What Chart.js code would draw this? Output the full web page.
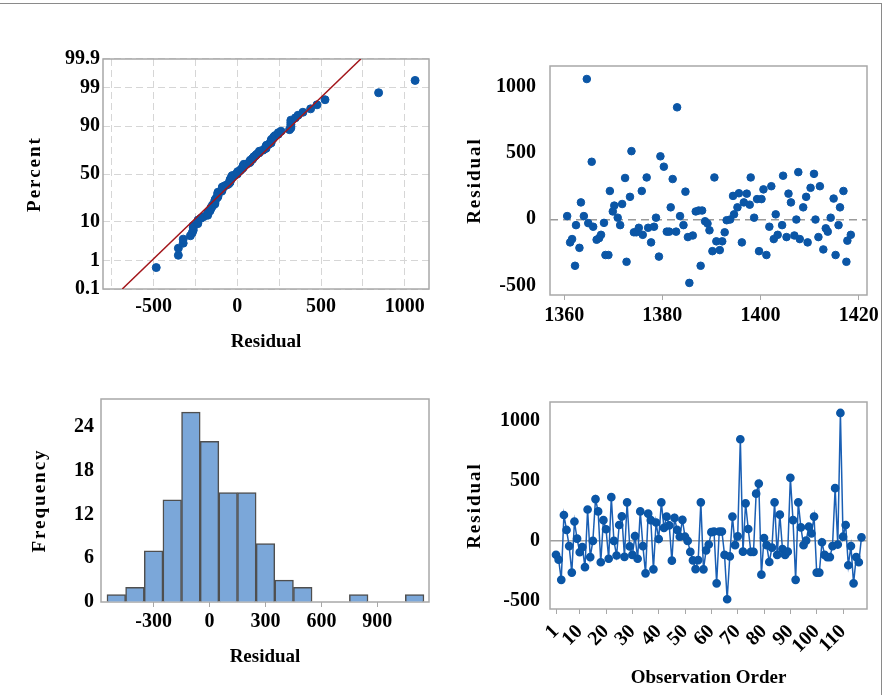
<!DOCTYPE html>
<html>
<head>
<meta charset="utf-8">
<script src="https://cdn.jsdelivr.net/npm/chart.js@4.4.1/dist/chart.umd.min.js"></script>
<style>
  body { margin:0; background:#fff; }
  #wrap { position:relative; width:884px; height:695px; overflow:hidden; background:#fff; }
  #wrap canvas { position:absolute; }
  #frame { position:absolute; left:0; top:3px; width:881px; height:700px; border-top:1px solid #8a8a8a; border-right:1px solid #8a8a8a; }
</style>
</head>
<body>
<div id="wrap">
  <div id="frame"></div>
  <canvas id="probPlot" width="440" height="320" style="left:0;top:40px"></canvas>
  <canvas id="fitsPlot" width="444" height="290" style="left:440px;top:40px"></canvas>
  <canvas id="histPlot" width="440" height="315" style="left:0;top:380px"></canvas>
  <canvas id="orderPlot" width="444" height="315" style="left:440px;top:380px"></canvas>
</div>
<script>
// residuals in observation order
var residuals = [-115,-156,-323,215,91,-43,-263,161,19,-94,
  -51,-218,261,-134,0,347,245,-177,172,97,
  -148,363,0,-121,132,204,-132,320,-46,-116,
  40,-148,245,-43,-269,226,172,-236,153,16,
  320,108,202,129,-164,191,91,35,175,35,
  0,-91,-161,-234,-159,320,-236,-78,-30,73,
  78,-352,78,78,-116,-484,-129,202,-35,38,
  844,-89,312,99,-91,-91,392,476,-280,24,
  -35,-175,-56,320,-116,218,-67,-116,-89,524,
  172,-323,320,113,-35,3,118,62,202,-263,
  -263,-11,-116,-134,-134,-43,438,-30,1062,35,
  132,-202,-43,-352,-134,-177,30];

// versus fits panel
var fits = [1360.6,1361.2,1361.6,1362.2,1362.4,1363.1,1363.4,1364.0,1364.6,1364.9,
  1365.6,1365.9,1366.6,1367.1,1367.5,1368.1,1368.4,1369.0,1369.3,1369.9,
  1370.2,1370.9,1371.4,1371.8,1372.4,1372.7,1373.4,1373.7,1374.2,1374.7,
  1375.2,1376.0,1375.8,1377.1,1376.8,1377.7,1378.3,1378.7,1379.3,1379.6,
  1380.3,1380.9,1381.4,1381.7,1382.1,1382.8,1383.0,1383.6,1384.3,1384.7,
  1385.2,1385.5,1386.2,1386.8,1387.4,1387.8,1388.1,1388.7,1389.2,1389.6,
  1390.6,1390.2,1391.0,1391.7,1392.2,1392.7,1393.1,1393.8,1394.4,1394.6,
  1395.3,1395.6,1396.2,1396.6,1397.2,1397.8,1398.0,1398.7,1399.3,1399.7,
  1400.2,1400.6,1401.2,1401.8,1402.2,1402.7,1403.1,1403.5,1404.4,1404.6,
  1405.3,1405.7,1406.2,1406.9,1407.3,1407.7,1408.0,1408.7,1409.3,1409.6,
  1410.2,1410.9,1411.2,1411.8,1412.1,1412.8,1413.3,1413.7,1414.3,1414.9,
  1415.3,1415.9,1416.2,1416.9,1417.5,1417.7,1418.4];
var fitResid = [24,-174,-149,-350,-44,-215,127,24,1056,-29,
  433,-56,-154,-142,-117,-27,-269,-269,213,59,
  103,12,-44,115,311,-320,169,513,-98,-98,
  -64,-117,213,-64,315,-174,-56,12,-281,474,
  396,-93,-93,90,303,-93,843,24,-44,208,
  -134,-479,-122,59,66,-350,66,-15,-32,-83,
  315,-240,-166,-232,-166,-98,-7,-2,176,37,
  90,196,-174,127,193,110,315,12,152,-240,
  152,225,-269,-56,249,-149,37,-117,-44,328,
  -134,193,127,-122,-2,355,-149,90,169,-174,
  237,342,-2,-134,249,-227,-68,-93,12,156,
  -269,-44,90,213,-320,-161,-117];

// histogram
var histCenters = [-500,-400,-300,-200,-100,0,100,200,300,400,500,600,700,800,900,1000,1100];
var histCounts = [1,2,7,14,26,22,15,15,8,3,2,0,0,1,0,0,1];

// tick labels
var pctTicks = [0.1,1,10,50,90,99,99.9];
var probXTicks = [-750,-500,-250,0,250,500,750,1000];
var fitXTicks = [1360,1380,1400,1420];
var residTicks = [-500,0,500,1000];
var histXTicks = [-300,0,300,600,900];
var histYTicks = [0,6,12,18,24];
var orderTicks = [1,10,20,30,40,50,60,70,80,90,100,110];

var blue = '#0b56a6';
var serif = "'Liberation Serif','Times New Roman',serif";
var tickFont = {family: serif, size: 20, weight: 'bold'};
var titleFont = {family: serif, size: 19, weight: 'bold'};

function invNorm(p){
  var a=[-3.969683028665376e+01,2.209460984245205e+02,-2.759285104469687e+02,1.383577518672690e+02,-3.066479806614716e+01,2.506628277459239e+00];
  var b=[-5.447609879822406e+01,1.615858368580409e+02,-1.556989798598866e+02,6.680131188771972e+01,-1.328068155288572e+01];
  var c=[-7.784894002430293e-03,-3.223964580411365e-01,-2.400758277161838e+00,-2.549732539343734e+00,4.374664141464968e+00,2.938163982698783e+00];
  var d=[7.784695709041462e-03,3.224671290700398e-01,2.445134137142996e+00,3.754408661907416e+00];
  var q, r;
  if(p<0.02425){
    q=Math.sqrt(-2*Math.log(p));
    return (((((c[0]*q+c[1])*q+c[2])*q+c[3])*q+c[4])*q+c[5])/((((d[0]*q+d[1])*q+d[2])*q+d[3])*q+1);
  }
  if(p>1-0.02425){
    q=Math.sqrt(-2*Math.log(1-p));
    return -(((((c[0]*q+c[1])*q+c[2])*q+c[3])*q+c[4])*q+c[5])/((((d[0]*q+d[1])*q+d[2])*q+d[3])*q+1);
  }
  q=p-0.5; r=q*q;
  return (((((a[0]*r+a[1])*r+a[2])*r+a[3])*r+a[4])*r+a[5])*q/(((((b[0]*r+b[1])*r+b[2])*r+b[3])*r+b[4])*r+1);
}

// box around each plot area
var boxPlugin = {
  id: 'box',
  beforeDatasetsDraw: function(chart){
    var a = chart.chartArea, c = chart.ctx;
    c.save();
    c.strokeStyle = '#a8a8a8';
    c.lineWidth = 1.5;
    c.strokeRect(a.left, a.top, a.right - a.left, a.bottom - a.top);
    c.restore();
  }
};

function setTicks(list){
  return function(scale){
    scale.ticks = list.map(function(v){ return {value: v}; });
  };
}

function plain(v){ return String(v); }

// y titles in the original are letter-spaced
function fixWidth(w){
  return function(s){
    s.width = w;
    if(!s._spaced){
      var orig = s.drawTitle;
      s.drawTitle = function(){
        var c = this.ctx;
        c.save();
        c.letterSpacing = '2px';
        orig.apply(this, arguments);
        c.restore();
      };
      s._spaced = true;
    }
  };
}

function baseOptions(pad){
  return {
    responsive: false,
    animation: false,
    layout: {padding: pad, autoPadding: false},
    plugins: {legend: {display: false}, tooltip: {enabled: false}},
    scales: {}
  };
}

// ---------- normal probability plot ----------
function drawProb(){
  var sorted = residuals.slice().sort(function(a,b){ return a-b; });
  var n = sorted.length;
  var pts = [];
  for(var i=0;i<n;i++){
    pts.push({x: sorted[i], y: invNorm((i+1-0.3)/(n+0.4))});
  }
  var mean = 0;
  for(var i=0;i<n;i++){ mean += sorted[i]; }
  mean = mean/n;
  var ss = 0;
  for(var i=0;i<n;i++){ ss += (sorted[i]-mean)*(sorted[i]-mean); }
  var sd = Math.sqrt(ss/(n-1));
  var zLo = invNorm(0.001), zHi = invNorm(0.999);
  var fitLine = [{x: mean + zLo*sd, y: zLo}, {x: mean + zHi*sd, y: zHi}];

  var opts = baseOptions({top: 19, right: 11, left: 0, bottom: 0});
  opts.scales.x = {
    type: 'linear', min: -802, max: 1145,
    afterFit: function(s){ s.height = 71; },
    afterBuildTicks: setTicks(probXTicks),
    grid: {color: '#d6d6d6', drawTicks: false},
    border: {display: false, dash: [7,4]},
    ticks: {font: tickFont, color: '#000', padding: 6,
      callback: function(v){ return v % 500 === 0 ? String(v) : ''; }},
    title: {display: true, text: 'Residual', font: titleFont, color: '#000', padding: {top: 0, bottom: 7}}
  };
  opts.scales.y = {
    type: 'linear', min: zLo, max: zHi,
    afterFit: fixWidth(103),
    afterBuildTicks: function(scale){
      scale.ticks = pctTicks.map(function(p){ return {value: invNorm(p/100)}; });
    },
    grid: {color: '#d6d6d6', drawTicks: false},
    border: {display: false, dash: [7,4]},
    ticks: {font: tickFont, color: '#000', padding: 3,
      callback: function(v, i){ return String(pctTicks[i]); }},
    title: {display: true, text: 'Percent', font: titleFont, color: '#000', padding: {top: 24, bottom: 0}}
  };

  var ctx = document.getElementById('probPlot').getContext('2d');
  new Chart(ctx, {
    type: 'scatter',
    data: {datasets: [
      {data: fitLine, showLine: true, borderColor: '#a3161b', borderWidth: 1.5, pointRadius: 0},
      {data: pts, backgroundColor: blue, borderColor: blue, pointRadius: 4}
    ]},
    options: opts,
    plugins: [boxPlugin]
  });
}

// ---------- versus fits ----------
function drawFits(){
  var pts = [];
  for(var i=0;i<fits.length;i++){
    pts.push({x: fits[i], y: fitResid[i]});
  }
  var opts = baseOptions({top: 20, right: 17, left: 0, bottom: 0});
  opts.scales.x = {
    type: 'linear', min: 1357.1, max: 1421.7,
    afterFit: function(s){ s.height = 35; },
    afterBuildTicks: setTicks(fitXTicks),
    grid: {drawOnChartArea: false, tickLength: 5, tickColor: '#a8a8a8'},
    border: {display: false},
    ticks: {font: tickFont, color: '#000', padding: 4, callback: plain}
  };
  opts.scales.y = {
    type: 'linear', min: -570, max: 1154,
    afterFit: fixWidth(110),
    afterBuildTicks: setTicks(residTicks),
    grid: {drawTicks: false, lineWidth: 1.5,
      color: function(c){ return c.tick && c.tick.value === 0 ? '#9a9a9a' : 'rgba(0,0,0,0)'; }},
    border: {display: false, dash: [8,5]},
    ticks: {font: tickFont, color: '#000', padding: 14, callback: plain},
    title: {display: true, text: 'Residual', font: titleFont, color: '#000', padding: {top: 24, bottom: 0}}
  };
  var ctx = document.getElementById('fitsPlot').getContext('2d');
  new Chart(ctx, {
    type: 'scatter',
    data: {datasets: [{data: pts, backgroundColor: blue, borderColor: blue, pointRadius: 3.8}]},
    options: opts,
    plugins: [boxPlugin]
  });
}

// ---------- histogram ----------
function drawHist(){
  var bars = [];
  for(var i=0;i<histCenters.length;i++){
    bars.push({x: histCenters[i], y: histCounts[i]});
  }
  var opts = baseOptions({top: 16, right: 11, left: 0, bottom: 0});
  opts.scales.x = {
    type: 'linear', min: -582, max: 1177, offset: false,
    afterFit: function(s){ s.height = 93; },
    afterBuildTicks: setTicks(histXTicks),
    grid: {drawOnChartArea: false, offset: false, tickLength: 5, tickColor: '#a8a8a8'},
    border: {display: false},
    ticks: {font: tickFont, color: '#000', padding: 3, callback: plain},
    title: {display: true, text: 'Residual', font: titleFont, color: '#000', padding: {top: 0, bottom: 27}}
  };
  opts.scales.y = {
    type: 'linear', min: 0, max: 27.8,
    afterFit: fixWidth(101),
    afterBuildTicks: setTicks(histYTicks),
    grid: {drawOnChartArea: false, drawTicks: false},
    border: {display: false},
    ticks: {font: tickFont, color: '#000', padding: 7, callback: plain},
    title: {display: true, text: 'Frequency', font: titleFont, color: '#000', padding: {top: 29, bottom: 0}}
  };
  var ctx = document.getElementById('histPlot').getContext('2d');
  new Chart(ctx, {
    type: 'bar',
    data: {datasets: [{data: bars, backgroundColor: '#7ba7d9', borderColor: '#4f4f4f', borderWidth: 1.5,
      barPercentage: 1, categoryPercentage: 1}]},
    options: opts,
    plugins: [boxPlugin]
  });
}

// ---------- versus order ----------
function drawOrder(){
  var pts = [];
  for(var i=0;i<residuals.length;i++){
    pts.push({x: i+1, y: residuals[i]});
  }
  var opts = baseOptions({top: 16, right: 17, left: 0, bottom: 0});
  opts.scales.x = {
    type: 'linear', min: -1.28, max: 119.1,
    afterFit: function(s){ s.height = 86; },
    afterBuildTicks: setTicks(orderTicks),
    grid: {drawOnChartArea: false, tickLength: 5, tickColor: '#a8a8a8'},
    border: {display: false},
    ticks: {font: tickFont, color: '#000', padding: 6, minRotation: 45, maxRotation: 45, autoSkip: false, callback: plain},
    title: {display: true, text: 'Observation Order', font: titleFont, color: '#000', padding: {top: 0, bottom: 6}}
  };
  opts.scales.y = {
    type: 'linear', min: -565, max: 1153,
    afterFit: fixWidth(110),
    afterBuildTicks: setTicks(residTicks),
    grid: {drawTicks: false, lineWidth: 1.5,
      color: function(c){ return c.tick && c.tick.value === 0 ? '#a0a0a0' : 'rgba(0,0,0,0)'; }},
    border: {display: false},
    ticks: {font: tickFont, color: '#000', padding: 10, callback: plain},
    title: {display: true, text: 'Residual', font: titleFont, color: '#000', padding: {top: 24, bottom: 0}}
  };
  var ctx = document.getElementById('orderPlot').getContext('2d');
  new Chart(ctx, {
    type: 'scatter',
    data: {datasets: [{data: pts, showLine: true, borderColor: '#1a5fb4', borderWidth: 1.5,
      backgroundColor: blue, pointBorderColor: blue, pointRadius: 3.6}]},
    options: opts,
    plugins: [boxPlugin]
  });
}

drawProb();
drawFits();
drawHist();
drawOrder();
</script>
</body>
</html>
